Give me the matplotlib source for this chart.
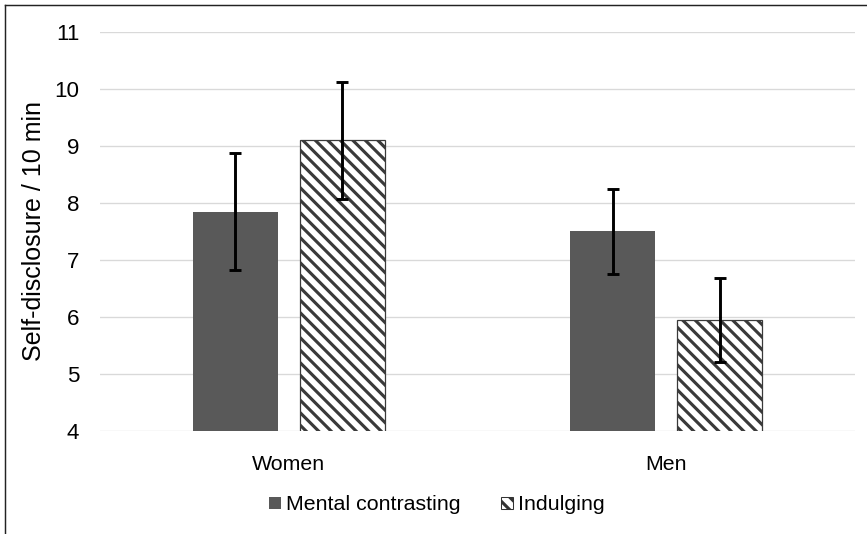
import matplotlib
matplotlib.use("Agg")
import matplotlib.pyplot as plt
import numpy as np
from matplotlib.lines import Line2D
from matplotlib.patches import Patch

categories = ["Women", "Men"]
series_names = ["Mental contrasting", "Indulging"]
mc_values = [7.85, 7.50]
mc_errors = [1.03, 0.74]
ind_values = [9.10, 5.95]
ind_errors = [1.03, 0.74]
yticks = [4, 5, 6, 7, 8, 9, 10, 11]

DPI = 75
plt.rcParams['font.family'] = ['Liberation Sans', 'DejaVu Sans']
plt.rcParams['hatch.linewidth'] = 3.0

fig = plt.figure(figsize=(867 / DPI, 534 / DPI), dpi=DPI)
ax = fig.add_axes([100 / 867, 1 - 431 / 534, 755 / 867, 399 / 534])

x = np.arange(len(categories))
w = 0.225
off = 0.1415
ax.bar(x - off, mc_values, w, color='#595959', zorder=2)
ax.bar(x + off, ind_values, w, color='white', edgecolor='#3a3a3a',
       hatch='\\\\', linewidth=1.2, zorder=2)
ekw = dict(fmt='none', ecolor='black', elinewidth=2.8, capsize=6, capthick=2.8, zorder=3)
ax.errorbar(x - off, mc_values, yerr=mc_errors, **ekw)
ax.errorbar(x + off, ind_values, yerr=ind_errors, **ekw)

ax.set_xlim(-0.5, 1.5)
ax.set_ylim(4, 11)
ax.set_yticks(yticks)
ax.set_yticklabels([str(t) for t in yticks], fontsize=21.5)
ax.set_xticks(x)
ax.set_xticklabels(categories, fontsize=20.5)
ax.tick_params(axis='y', length=0, pad=20)
ax.tick_params(axis='x', length=0, pad=23)
ax.grid(axis='y', color='#d9d9d9', linewidth=1.3, zorder=0)
ax.set_axisbelow(True)
for s in ax.spines.values():
    s.set_visible(False)
ax.set_ylabel("Self-disclosure / 10 min", fontsize=24, labelpad=8)

handles = [Patch(facecolor='#595959', edgecolor='none'),
           Patch(facecolor='white', edgecolor='#333333', hatch='\\\\', linewidth=1.0)]
fig.legend(handles, series_names, loc='center', bbox_to_anchor=(437 / 867, 1 - 505 / 534),
           ncol=2, frameon=False, fontsize=20.5, handlelength=0.55, handleheight=0.55,
           handletextpad=0.25, columnspacing=1.9)

fig.add_artist(Line2D([5 / 867, 5 / 867], [0, 1 - 5 / 534], transform=fig.transFigure,
                      color='#222222', linewidth=1.4))
fig.add_artist(Line2D([5 / 867, 1], [1 - 5 / 534, 1 - 5 / 534], transform=fig.transFigure,
                      color='#222222', linewidth=1.4))

fig.savefig("out.png", dpi=DPI)
